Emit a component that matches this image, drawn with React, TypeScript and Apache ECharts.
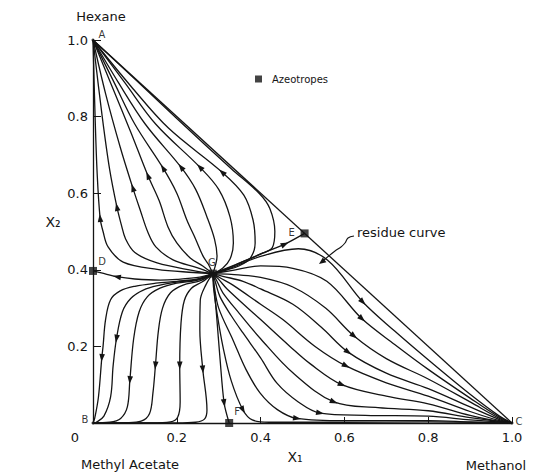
import React, { useEffect, useRef } from 'react';
import * as echarts from 'echarts';

type Pt = [number, number];

const FONT = 'DejaVu Sans';
const INK = '#141414';

// Azeotropes and pure components
const G: Pt = [0.286, 0.39];
const azeotropeNames = ['D', 'E', 'F', 'G'];
const azeotropePoints: Pt[] = [[0, 0.397], [0.505, 0.495], [0.325, 0], G];
const pureNames = ['A', 'B', 'C'];
const purePoints: Pt[] = [[0, 1], [0, 0], [1, 0]];

// Separatrices (from ternary azeotrope G)
const sepGD: Pt[] = [G, [0.255, 0.381], [0.2, 0.375], [0.16, 0.373], [0.1, 0.376], [0.057, 0.382], [0.02, 0.392], [0, 0.397]];
const sepGE: Pt[] = [G, [0.32, 0.403], [0.351, 0.418], [0.406, 0.444], [0.458, 0.467], [0.505, 0.495]];
const sepGF: Pt[] = [G, [0.295, 0.28], [0.303, 0.17], [0.313, 0.052], [0.325, 0]];
const sepArrowIdx = [5, 4, 3];

// Residue curves G -> A (hexane)
const upperCurves: Pt[][] = [
  [G, [0.24, 0.393], [0.153, 0.401], [0.072, 0.42], [0.036, 0.46], [0.024, 0.5], [0.017, 0.535], [0.01, 0.65], [0.005, 0.8], [0, 1]],
  [G, [0.24, 0.398], [0.153, 0.418], [0.1, 0.445], [0.078, 0.48], [0.067, 0.52], [0.057, 0.564], [0.04, 0.66], [0.022, 0.8], [0, 1]],
  [G, [0.25, 0.405], [0.191, 0.426], [0.15, 0.46], [0.131, 0.498], [0.113, 0.555], [0.095, 0.614], [0.065, 0.72], [0.03, 0.86], [0, 1]],
  [G, [0.262, 0.41], [0.232, 0.431], [0.2, 0.47], [0.179, 0.512], [0.158, 0.58], [0.131, 0.646], [0.09, 0.76], [0.045, 0.88], [0, 1]],
  [G, [0.275, 0.415], [0.263, 0.435], [0.245, 0.48], [0.224, 0.53], [0.2, 0.6], [0.167, 0.666], [0.1, 0.78], [0.05, 0.89], [0, 1]],
  [G, [0.293, 0.415], [0.296, 0.435], [0.29, 0.48], [0.272, 0.538], [0.245, 0.61], [0.21, 0.668], [0.125, 0.78], [0.06, 0.89], [0, 1]],
  [G, [0.31, 0.405], [0.327, 0.428], [0.335, 0.47], [0.327, 0.538], [0.3, 0.61], [0.255, 0.668], [0.15, 0.78], [0.075, 0.89], [0, 1]],
  [G, [0.32, 0.4], [0.348, 0.41], [0.375, 0.43], [0.387, 0.47], [0.382, 0.53], [0.36, 0.595], [0.308, 0.655], [0.18, 0.77], [0.09, 0.88], [0, 1]],
  [G, [0.351, 0.418], [0.406, 0.444], [0.428, 0.458], [0.434, 0.5], [0.422, 0.56], [0.398, 0.598], [0.33, 0.664], [0.2, 0.795], [0.1, 0.898], [0, 1]],
];
const upperArrowIdx = [6, 6, 6, 6, 6, 6, 6, 7, -1];

// Residue curves G -> B (methyl acetate)
const lowerLeftCurves: Pt[][] = [
  [G, [0.25, 0.376], [0.2, 0.37], [0.15, 0.365], [0.1, 0.357], [0.065, 0.345], [0.042, 0.322], [0.03, 0.27], [0.024, 0.2], [0.021, 0.17], [0.013, 0.068], [0.004, 0.012], [0, 0]],
  [G, [0.25, 0.375], [0.2, 0.368], [0.16, 0.36], [0.12, 0.347], [0.09, 0.325], [0.07, 0.29], [0.056, 0.22], [0.048, 0.149], [0.042, 0.068], [0.026, 0.018], [0.008, 0.002], [0, 0]],
  [G, [0.25, 0.373], [0.2, 0.365], [0.16, 0.352], [0.13, 0.33], [0.11, 0.29], [0.097, 0.22], [0.088, 0.112], [0.082, 0.042], [0.066, 0.012], [0.04, 0.002], [0, 0]],
  [G, [0.255, 0.371], [0.215, 0.36], [0.185, 0.34], [0.166, 0.3], [0.156, 0.24], [0.149, 0.15], [0.143, 0.078], [0.135, 0.025], [0.115, 0.005], [0.08, 0.001], [0, 0]],
  [G, [0.26, 0.368], [0.235, 0.352], [0.218, 0.32], [0.21, 0.26], [0.207, 0.15], [0.208, 0.055], [0.202, 0.015], [0.185, 0.003], [0.14, 0], [0, 0]],
  [G, [0.27, 0.362], [0.256, 0.32], [0.255, 0.243], [0.262, 0.14], [0.272, 0.034], [0.266, 0.01], [0.245, 0.002], [0.2, 0], [0, 0]],
];
const lowerLeftArrowIdx = [9, 7, 7, 6, 5, 4];

// Residue curves G -> C (methanol)
const lowerRightCurves: Pt[][] = [
  [G, [0.33, 0.405], [0.4, 0.435], [0.49, 0.455], [0.56, 0.425], [0.644, 0.316], [0.72, 0.24], [0.8, 0.165], [0.9, 0.075], [0.97, 0.018], [1, 0]],
  [G, [0.33, 0.398], [0.4, 0.41], [0.477, 0.404], [0.558, 0.37], [0.642, 0.272], [0.72, 0.205], [0.8, 0.14], [0.9, 0.065], [0.97, 0.015], [1, 0]],
  [G, [0.33, 0.388], [0.4, 0.38], [0.477, 0.355], [0.555, 0.3], [0.623, 0.227], [0.7, 0.168], [0.8, 0.115], [0.9, 0.055], [0.97, 0.012], [1, 0]],
  [G, [0.31, 0.383], [0.358, 0.37], [0.4, 0.35], [0.477, 0.31], [0.545, 0.25], [0.609, 0.185], [0.7, 0.13], [0.8, 0.09], [0.9, 0.042], [0.97, 0.009], [1, 0]],
  [G, [0.305, 0.378], [0.334, 0.36], [0.4, 0.31], [0.453, 0.27], [0.53, 0.2], [0.604, 0.149], [0.7, 0.105], [0.8, 0.07], [0.9, 0.03], [0.97, 0.006], [1, 0]],
  [G, [0.3, 0.375], [0.32, 0.35], [0.4, 0.27], [0.47, 0.2], [0.518, 0.155], [0.594, 0.1], [0.7, 0.07], [0.8, 0.05], [0.9, 0.02], [0.97, 0.004], [1, 0]],
  [G, [0.296, 0.37], [0.31, 0.34], [0.35, 0.285], [0.4, 0.22], [0.477, 0.131], [0.575, 0.055], [0.68, 0.04], [0.8, 0.032], [0.9, 0.014], [1, 0]],
  [G, [0.292, 0.368], [0.303, 0.33], [0.33, 0.28], [0.358, 0.235], [0.4, 0.17], [0.439, 0.104], [0.49, 0.055], [0.542, 0.026], [0.65, 0.02], [0.8, 0.018], [0.9, 0.008], [1, 0]],
  [G, [0.289, 0.36], [0.3, 0.3], [0.334, 0.217], [0.365, 0.14], [0.399, 0.078], [0.44, 0.035], [0.487, 0.012], [0.6, 0.006], [0.8, 0.006], [0.9, 0.003], [1, 0]],
  [G, [0.288, 0.35], [0.297, 0.28], [0.31, 0.2], [0.33, 0.11], [0.358, 0.034], [0.38, 0.008], [0.42, 0.002], [0.6, 0.002], [0.8, 0.003], [1, 0]],
];
const lowerRightArrowIdx = [5, 5, 5, 6, 6, 6, 6, 8, 7, 5];

const hypotenuse: Pt[] = [[0, 1], [1, 0]];

function lineSeries(pts: Pt[], smooth: number | boolean = 0.35) {
  return {
    type: 'line',
    data: pts,
    smooth,
    symbol: 'none',
    showSymbol: false,
    silent: true,
    z: 2,
    lineStyle: { color: INK, width: 1.3 },
  };
}

function arrowItems(curves: Pt[][], idx: number[]) {
  const out: number[][] = [];
  curves.forEach((c, i) => {
    const k = idx[i];
    if (k < 1 || k >= c.length - 1) return;
    out.push([c[k][0], c[k][1], c[k - 1][0], c[k - 1][1], c[k + 1][0], c[k + 1][1]]);
  });
  return out;
}

export default function App() {
  const ref = useRef<HTMLDivElement>(null);
  useEffect(() => {
    if (!ref.current) return;
    const chart = echarts.init(ref.current, undefined, { renderer: 'svg' });

    const separatrices = [sepGD, sepGE, sepGF];
    const arrows = [
      ...arrowItems(separatrices, sepArrowIdx),
      ...arrowItems(upperCurves, upperArrowIdx),
      ...arrowItems(lowerLeftCurves, lowerLeftArrowIdx),
      ...arrowItems(lowerRightCurves, lowerRightArrowIdx),
    ];

    const azeoOffsets = [[9, -9], [-13, -1], [8, -12], [-1, -11]];
    const pureOffsets = [[9, -6], [-8, -4], [7, -2]];

    const labelBase = {
      show: true,
      position: 'inside',
      color: '#000000',
      fontSize: 10,
      fontFamily: FONT,
      textBorderWidth: 0,
      textBorderColor: 'transparent',
      textShadowBlur: 0,
    };

    const option: any = {
      animation: false,
      backgroundColor: '#ffffff',
      grid: { left: 93, right: 43, top: 40, bottom: 50 },
      legend: {
        data: ['Azeotropes'],
        left: 255,
        top: 74,
        padding: 0,
        itemWidth: 7,
        itemHeight: 7,
        icon: 'rect',
        selectedMode: false,
        textStyle: { fontSize: 10, color: INK, fontFamily: FONT, padding: [0, 0, 0, 5] },
      },
      xAxis: {
        type: 'value',
        min: 0,
        max: 1,
        interval: 0.2,
        splitLine: { show: false },
        axisLine: { show: true, onZero: false, lineStyle: { color: INK, width: 1.3 } },
        axisTick: { show: true, inside: true, length: 6, lineStyle: { color: INK, width: 1 } },
        axisLabel: {
          color: INK,
          fontSize: 13,
          fontFamily: FONT,
          margin: 8,
          formatter: (v: number) => (v === 0 ? '' : v.toFixed(1)),
        },
      },
      yAxis: {
        type: 'value',
        min: 0,
        max: 1,
        interval: 0.2,
        splitLine: { show: false },
        axisLine: { show: true, onZero: false, lineStyle: { color: INK, width: 1.3 } },
        axisTick: { show: true, inside: true, length: 8, lineStyle: { color: INK, width: 1 } },
        axisLabel: {
          color: INK,
          fontSize: 13,
          fontFamily: FONT,
          margin: 5,
          formatter: (v: number) => (v === 0 ? '' : v.toFixed(1)),
        },
      },
      graphic: [
        { type: 'text', x: 101, y: 16, style: { text: 'Hexane', fontSize: 13, fontFamily: FONT, fill: INK, align: 'center', verticalAlign: 'middle', textAlign: 'center', textVerticalAlign: 'middle' } },
        { type: 'text', x: 53, y: 222, style: { text: 'X₂', fontSize: 14, fontFamily: FONT, fill: INK, align: 'center', verticalAlign: 'middle', textAlign: 'center', textVerticalAlign: 'middle' } },
        { type: 'text', x: 295, y: 457, style: { text: 'X₁', fontSize: 14, fontFamily: FONT, fill: INK, align: 'center', verticalAlign: 'middle', textAlign: 'center', textVerticalAlign: 'middle' } },
        { type: 'text', x: 75, y: 437, style: { text: '0', fontSize: 13, fontFamily: FONT, fill: INK, align: 'center', verticalAlign: 'middle', textAlign: 'center', textVerticalAlign: 'middle' } },
        { type: 'text', x: 130, y: 464, style: { text: 'Methyl Acetate', fontSize: 13, fontFamily: FONT, fill: INK, align: 'center', verticalAlign: 'middle', textAlign: 'center', textVerticalAlign: 'middle' } },
        { type: 'text', x: 496, y: 465, style: { text: 'Methanol', fontSize: 13, fontFamily: FONT, fill: INK, align: 'center', verticalAlign: 'middle', textAlign: 'center', textVerticalAlign: 'middle' } },
        { type: 'text', x: 357, y: 232, style: { text: 'residue curve', fontSize: 13, fontFamily: FONT, fill: INK, align: 'left', verticalAlign: 'middle', textAlign: 'left', textVerticalAlign: 'middle' } },
        {
          type: 'polyline',
          shape: { points: [[354, 236], [348, 238], [345, 243], [341, 247], [335, 251], [324, 260]], smooth: 0.4 },
          style: { stroke: INK, lineWidth: 1.1, fill: 'none' },
        },
        {
          type: 'polygon',
          shape: { points: [[319, 264], [326.4, 262.2], [322.8, 257.4]] },
          style: { fill: INK },
        },
      ],
      series: [
        lineSeries(hypotenuse, false),
        ...separatrices.map((c) => lineSeries(c, 0.3)),
        ...upperCurves.map((c) => lineSeries(c)),
        ...lowerLeftCurves.map((c) => lineSeries(c)),
        ...lowerRightCurves.map((c) => lineSeries(c)),
        {
          type: 'custom',
          silent: true,
          z: 5,
          clip: false,
          dimensions: ['x', 'y', 'ax', 'ay', 'bx', 'by'],
          encode: { x: 0, y: 1 },
          data: arrows,
          renderItem: (_p: any, api: any) => {
            const c = api.coord([api.value(0), api.value(1)]);
            const a = api.coord([api.value(2), api.value(3)]);
            const b = api.coord([api.value(4), api.value(5)]);
            let dx = b[0] - a[0];
            let dy = b[1] - a[1];
            const len = Math.hypot(dx, dy) || 1;
            dx /= len;
            dy /= len;
            const L = 4;
            const W = 2.8;
            const tip = [c[0] + dx * L, c[1] + dy * L];
            const back = [c[0] - dx * L, c[1] - dy * L];
            return {
              type: 'polygon',
              shape: { points: [tip, [back[0] - dy * W, back[1] + dx * W], [back[0] + dy * W, back[1] - dx * W]] },
              style: { fill: INK },
            };
          },
        },
        {
          name: 'Azeotropes',
          type: 'scatter',
          symbol: 'rect',
          symbolSize: 8,
          z: 6,
          silent: true,
          itemStyle: { color: INK },
          data: azeotropePoints.map((p, i) => ({
            value: p,
            label: { ...labelBase, offset: azeoOffsets[i], formatter: azeotropeNames[i] },
          })),
        },
        {
          name: 'Components',
          type: 'scatter',
          symbol: 'circle',
          symbolSize: 3,
          z: 6,
          silent: true,
          itemStyle: { color: INK },
          data: purePoints.map((p, i) => ({
            value: p,
            label: { ...labelBase, offset: pureOffsets[i], formatter: pureNames[i] },
          })),
        },
      ],
    };

    chart.setOption(option);
    return () => chart.dispose();
  }, []);

  return (
    <div
      ref={ref}
      style={{ position: 'absolute', left: 0, top: 0, width: 555, height: 473, background: '#ffffff' }}
    />
  );
}
